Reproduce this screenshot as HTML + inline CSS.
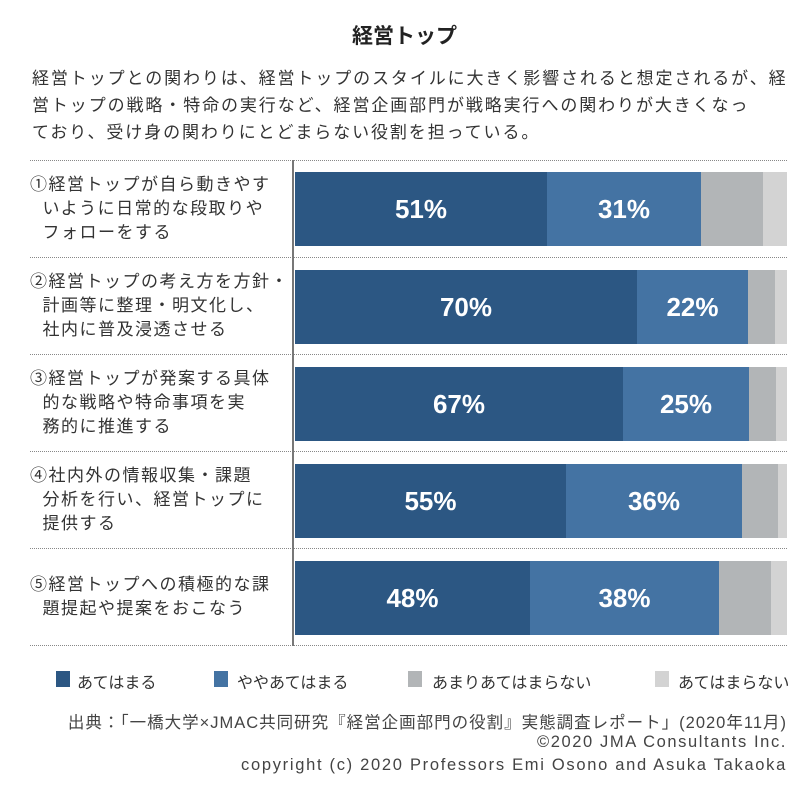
<!DOCTYPE html>
<html><head><meta charset="utf-8"><style>
body{margin:0;width:809px;height:791px;background:#fff;position:relative;font-family:"Liberation Sans","Noto Sans CJK JP",sans-serif;color:#333;overflow:hidden}
.a{position:absolute;white-space:nowrap}
.t{left:0;width:809px;text-align:center;top:20px;font-size:21px;font-weight:bold;color:#222}
.p{left:32px;font-size:17px;letter-spacing:1.9px}
.sep{position:absolute;left:30px;width:757px;border-top:1px dotted #888}
.ax{position:absolute;left:292px;top:160px;width:2px;height:486px;background:#777}
.bar{position:absolute;left:295px;width:492px;height:74px;display:flex}
.bar div{height:100%;color:#fff;font-size:26px;font-weight:bold;display:flex;align-items:center;justify-content:center}
.d{background:#2c5783}.m{background:#4473a3}.g{background:#b2b5b7}.l{background:#d3d3d3}
.lab{position:absolute;left:30px;font-size:17px;letter-spacing:1.5px;line-height:24px;white-space:nowrap}
.sq{position:absolute;width:14px;height:16px;top:671px}
.lg{position:absolute;top:669px;font-size:16px;letter-spacing:0px}
.src{position:absolute;right:22px;font-size:16.5px;text-align:right;color:#444;white-space:nowrap}
</style></head><body>
<div class="a t">経営トップ</div>
<div class="a p" style="top:64px">経営トップとの関わりは、経営トップのスタイルに大きく影響されると想定されるが、経</div>
<div class="a p" style="top:91px">営トップの戦略・特命の実行など、経営企画部門が戦略実行への関わりが大きくなっ</div>
<div class="a p" style="top:118px">ており、受け身の関わりにとどまらない役割を担っている。</div>

<div class="sep" style="top:160px"></div>
<div class="sep" style="top:257px"></div>
<div class="sep" style="top:354px"></div>
<div class="sep" style="top:451px"></div>
<div class="sep" style="top:548px"></div>
<div class="sep" style="top:645px"></div>
<div class="ax"></div>

<div class="lab" style="top:173px">①経営トップが自ら動きやす<br>&nbsp;&nbsp;いように日常的な段取りや<br>&nbsp;&nbsp;フォローをする</div>
<div class="lab" style="top:270px">②経営トップの考え方を方針・<br>&nbsp;&nbsp;計画等に整理・明文化し、<br>&nbsp;&nbsp;社内に普及浸透させる</div>
<div class="lab" style="top:367px">③経営トップが発案する具体<br>&nbsp;&nbsp;的な戦略や特命事項を実<br>&nbsp;&nbsp;務的に推進する</div>
<div class="lab" style="top:464px">④社内外の情報収集・課題<br>&nbsp;&nbsp;分析を行い、経営トップに<br>&nbsp;&nbsp;提供する</div>
<div class="lab" style="top:573px">⑤経営トップへの積極的な課<br>&nbsp;&nbsp;題提起や提案をおこなう</div>

<div class="bar" style="top:172px"><div class="d" style="width:252px">51%</div><div class="m" style="width:154px">31%</div><div class="g" style="width:62px"></div><div class="l" style="width:24px"></div></div>
<div class="bar" style="top:270px"><div class="d" style="width:342px">70%</div><div class="m" style="width:111px">22%</div><div class="g" style="width:27px"></div><div class="l" style="width:12px"></div></div>
<div class="bar" style="top:367px"><div class="d" style="width:328px">67%</div><div class="m" style="width:126px">25%</div><div class="g" style="width:27px"></div><div class="l" style="width:11px"></div></div>
<div class="bar" style="top:464px"><div class="d" style="width:271px">55%</div><div class="m" style="width:176px">36%</div><div class="g" style="width:36px"></div><div class="l" style="width:9px"></div></div>
<div class="bar" style="top:561px"><div class="d" style="width:235px">48%</div><div class="m" style="width:189px">38%</div><div class="g" style="width:52px"></div><div class="l" style="width:16px"></div></div>

<div class="sq d" style="left:56px"></div><div class="lg" style="left:77px">あてはまる</div>
<div class="sq m" style="left:214px"></div><div class="lg" style="left:237px">ややあてはまる</div>
<div class="sq g" style="left:408px"></div><div class="lg" style="left:432px">あまりあてはまらない</div>
<div class="sq l" style="left:655px"></div><div class="lg" style="left:678px">あてはまらない</div>

<div class="src" style="top:709px;letter-spacing:1px">出典：「一橋大学×JMAC共同研究『経営企画部門の役割』実態調査レポート」(2020年11月)</div>
<div class="src" style="top:733px;letter-spacing:1.6px">©2020 JMA Consultants Inc.</div>
<div class="src" style="top:756px;letter-spacing:1.7px">copyright (c) 2020 Professors Emi Osono and Asuka Takaoka</div>
</body></html>
